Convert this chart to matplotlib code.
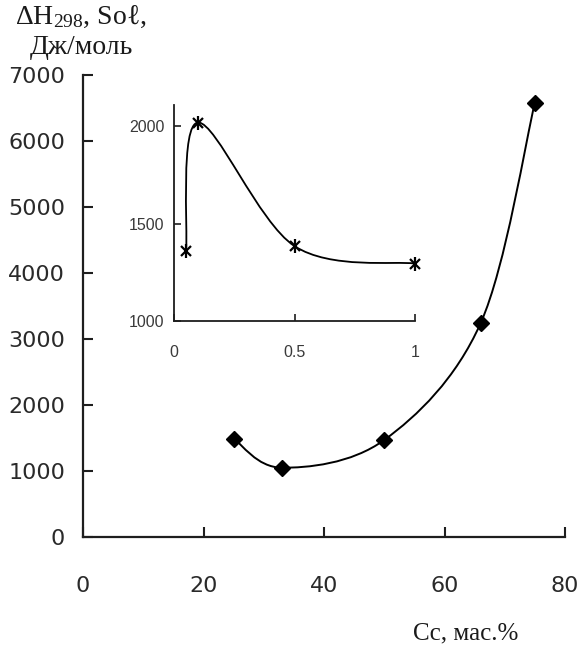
import numpy as np
import matplotlib
matplotlib.use("Agg")
import matplotlib.pyplot as plt
from matplotlib.path import Path
from matplotlib.patches import PathPatch

# Enthalpy of solution vs. concentration (main plot)
conc = [25, 33, 50, 66, 75]
dh_sol = [1490, 1050, 1470, 3240, 6580]
x_ticks = [0, 20, 40, 60, 80]
y_ticks = [0, 1000, 2000, 3000, 4000, 5000, 6000, 7000]

# Dilute region (inset)
inset_conc = [0.05, 0.1, 0.5, 1.0]
inset_dh = [1360, 2020, 1385, 1295]
inset_xticks = [0, 0.5, 1]
inset_xticklabels = ["0", "0.5", "1"]
inset_yticks = [1000, 1500, 2000]

plt.rcParams["mathtext.fontset"] = "custom"
plt.rcParams["mathtext.rm"] = "Liberation Serif"
plt.rcParams["mathtext.it"] = "Liberation Serif:italic"

INK = "#1e1e1e"


def smooth_path(xs, ys):
    """Cubic Bezier path through the points (Catmull-Rom style tangents)."""
    pts = np.column_stack([xs, ys]).astype(float)
    n = len(pts)
    verts = [pts[0]]
    codes = [Path.MOVETO]
    for i in range(n - 1):
        p0 = pts[max(i - 1, 0)]
        p1 = pts[i]
        p2 = pts[i + 1]
        p3 = pts[min(i + 2, n - 1)]
        verts += [p1 + (p2 - p0) / 6.0, p2 - (p3 - p1) / 6.0, p2]
        codes += [Path.CURVE4] * 3
    return Path(verts, codes)


def style_axes(ax, lw):
    for side in ("top", "right"):
        ax.spines[side].set_visible(False)
    for side in ("left", "bottom"):
        ax.spines[side].set_linewidth(lw)
        ax.spines[side].set_color(INK)


fig = plt.figure(figsize=(5.84, 6.5), dpi=100)

# ---- main axes ----
ax = fig.add_axes([83 / 584, 1 - 537 / 650, (565 - 83) / 584, (537 - 75) / 650])
ax.set_xlim(0, 80)
ax.set_ylim(0, 7000)
style_axes(ax, 1.6)
ax.set_xticks(x_ticks)
ax.set_yticks(y_ticks)
ax.tick_params(axis="both", direction="in", length=7, width=1.5, color=INK,
               labelcolor="#2a2a2a", labelsize=16)
ax.tick_params(axis="x", pad=28)
ax.tick_params(axis="y", pad=13)
for lab in ax.get_xticklabels() + ax.get_yticklabels():
    lab.set_family("DejaVu Sans")

ax.add_patch(PathPatch(smooth_path(conc, dh_sol), facecolor="none",
                       edgecolor="black", lw=1.4, clip_on=False))
ax.plot(conc, dh_sol, ls="none", marker="D", ms=8, color="black", clip_on=False)

# ---- inset ----
ins = fig.add_axes([174 / 584, 1 - 321 / 650, (415 - 174) / 584, (321 - 105) / 650])
ins.set_xlim(0, 1)
ins.set_ylim(1000, 2110)
ins.patch.set_alpha(0)
style_axes(ins, 1.3)
ins.set_xticks(inset_xticks)
ins.set_xticklabels(inset_xticklabels)
ins.set_yticks(inset_yticks)
ins.tick_params(axis="both", direction="in", length=5, width=1.2, color=INK,
                labelcolor="#3a3a3a", labelsize=11.5)
ins.tick_params(axis="x", pad=17)
ins.tick_params(axis="y", pad=7)
for lab in ins.get_xticklabels() + ins.get_yticklabels():
    lab.set_family("Liberation Sans")

ins.add_patch(PathPatch(smooth_path(inset_conc, inset_dh), facecolor="none",
                        edgecolor="black", lw=1.3, clip_on=False))
ins.plot(inset_conc, inset_dh, ls="none", marker="x", ms=7, mew=1.6,
         color="black", clip_on=False)
ins.plot(inset_conc, inset_dh, ls="none", marker="|", ms=10, mew=1.6,
         color="black", clip_on=False)

# ---- axis titles ----
serif = ["Liberation Serif", "DejaVu Serif"]
fig.text(81 / 584, 1 - 17 / 650, r"ΔH$_{298}$, Soℓ,", ha="center", va="center",
         fontsize=20, family=serif, color="#1a1a1a")
fig.text(81 / 584, 1 - 47 / 650, "Дж/моль", ha="center", va="center",
         fontsize=20, family=serif, color="#1a1a1a")
fig.text(466 / 584, 1 - 633 / 650, "Cc, мас.%", ha="center", va="center",
         fontsize=18, family=serif, color="#1a1a1a")

fig.savefig("out.png", dpi=100)
